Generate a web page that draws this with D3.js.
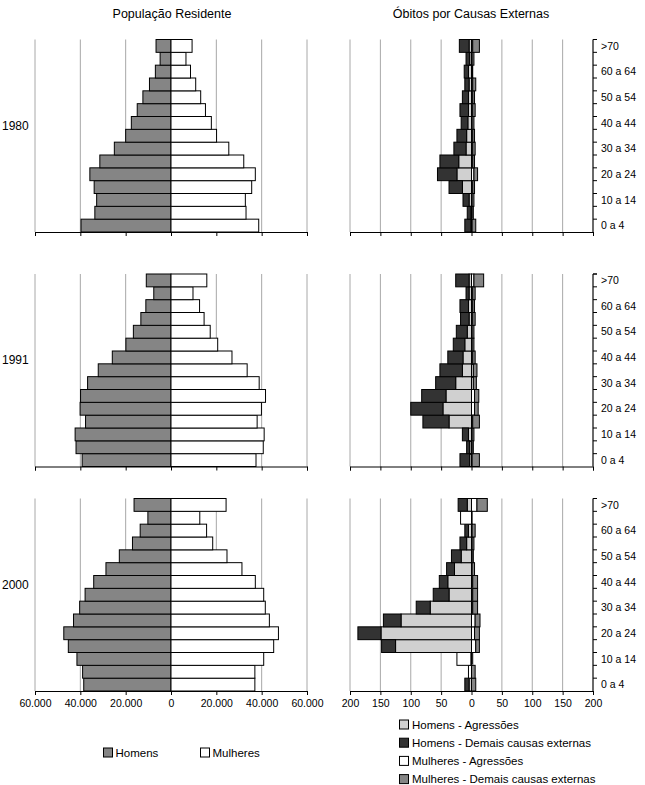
<!DOCTYPE html>
<html>
<head>
<meta charset="utf-8">
<script src="https://cdn.jsdelivr.net/npm/d3@7"></script>
<style>
  body { margin: 0; background: #fff; }
  svg { font-family: "Liberation Sans", Arial, sans-serif; }
</style>
</head>
<body>
<div class="chart"></div>
<script>
// age groups, bottom (0 a 4) to top (>70)
const ages = ["0 a 4", "5 a 9", "10 a 14", "15 a 19", "20 a 24", "25 a 29", "30 a 34",
  "35 a 39", "40 a 44", "45 a 49", "50 a 54", "55 a 59", "60 a 64", "65 a 69", ">70"];
const ageLabels = ["0 a 4", "10 a 14", "20 a 24", "30 a 34", "40 a 44", "50 a 54", "60 a 64", ">70"];
const years = ["1980", "1991", "2000"];

// população residente
const popMen1980 = [39700, 33600, 32800, 33900, 35800, 31400, 25000, 20000, 17500, 14900, 12400, 9500, 6900, 4800, 6600];
const popWomen1980 = [38700, 33100, 32800, 35600, 37200, 32100, 25500, 20100, 17800, 15200, 13100, 10900, 8600, 6600, 9300];
const popMen1991 = [39200, 41900, 42300, 37700, 40100, 39900, 36800, 32100, 25900, 19900, 16600, 13300, 11100, 7600, 10900];
const popWomen1991 = [37500, 40700, 41100, 38000, 39900, 41700, 38900, 33600, 26900, 20600, 17300, 14600, 12600, 9700, 15800];
const popMen2000 = [38500, 39000, 41500, 45300, 47300, 43000, 40300, 37900, 34100, 28700, 22800, 17000, 13600, 10200, 16300];
const popWomen2000 = [37000, 37000, 40900, 45300, 47400, 43400, 41600, 40900, 37200, 31300, 24700, 18400, 15700, 12700, 24300];

// óbitos por causas externas
const menAgr1980 = [1, 1, 4, 15, 24, 21, 9, 8, 6, 5, 5, 4, 5, 3, 4];
const menDem1980 = [10, 6, 10, 22, 32, 31, 20, 16, 11, 14, 10, 7, 7, 6, 16];
const womenAgr1980 = [1, 1, 1, 2, 4, 2, 2, 2, 1, 2, 2, 2, 1, 1, 2];
const womenDem1980 = [6, 2, 3, 3, 6, 3, 4, 3, 3, 4, 3, 5, 1, 3, 11];

const menAgr1991 = [3, 3, 5, 37, 47, 42, 26, 15, 14, 11, 7, 4, 5, 4, 4];
const menDem1991 = [16, 5, 10, 43, 53, 40, 33, 37, 25, 19, 18, 14, 14, 5, 22];
const womenAgr1991 = [1, 1, 1, 2, 5, 5, 3, 3, 2, 1, 1, 2, 2, 2, 4];
const womenDem1991 = [12, 2, 3, 11, 6, 7, 5, 6, 4, 3, 3, 4, 3, 4, 16];

const menAgr2000 = [4, 0, 0, 125, 149, 116, 68, 37, 39, 28, 17, 8, 5, 0, 7];
const menDem2000 = [7, 0, 1, 23, 38, 29, 23, 26, 14, 13, 16, 11, 6, 0, 15];
const womenAgr2000 = [0, -5, -23, 7, 5, 6, 2, 2, 2, 1, 1, 1, 1, -18, 9];
const womenDem2000 = [7, 6, 2, 6, 8, 8, 8, 8, 8, 4, 2, 3, 5, 1, 17];

const popTicks = [-60000, -40000, -20000, 0, 20000, 40000, 60000];
const deathTicks = [-200, -150, -100, -50, 0, 50, 100, 150, 200];

const pops = [[popMen1980, popWomen1980], [popMen1991, popWomen1991], [popMen2000, popWomen2000]];
const deaths = [
  [menAgr1980, menDem1980, womenAgr1980, womenDem1980],
  [menAgr1991, menDem1991, womenAgr1991, womenDem1991],
  [menAgr2000, menDem2000, womenAgr2000, womenDem2000]
];

const W = 645, H = 785;
const panelTop = [39.5, 274, 498.5];
const panelH = 192.5;
const gridColor = "#a8a8a8";

const svg = d3.select(".chart").append("svg")
  .attr("width", W).attr("height", H);

const xPop = d3.scaleLinear().domain([-60000, 60000]).range([35, 307]);
const xDeath = d3.scaleLinear().domain([-200, 200]).range([350, 593]);

const keys = ["menAgr", "menDem", "womenAgr", "womenDem"];
const colors = { menAgr: "#d0d0d0", menDem: "#333333", womenAgr: "#ffffff", womenDem: "#858585" };

const fmt = d => d3.format(",")(Math.abs(d)).replace(/,/g, ".");

// titles
svg.append("text").attr("x", 172).attr("y", 18).attr("text-anchor", "middle")
  .attr("font-size", 12.5).text("População Residente");
svg.append("text").attr("x", 471).attr("y", 18).attr("text-anchor", "middle")
  .attr("font-size", 12.5).text("Óbitos por Causas Externas");

function drawGrid(g, x, ticks, y0, y1, last) {
  g.selectAll(".grid").data(ticks).enter().append("line")
    .attr("x1", d => x(d)).attr("x2", d => x(d))
    .attr("y1", y0).attr("y2", y1)
    .attr("stroke", gridColor).attr("stroke-width", 1);

  const ax = g.append("g").attr("transform", "translate(0," + y1 + ")")
    .call(d3.axisBottom(x).tickValues(ticks).tickSize(4).tickFormat(last ? fmt : ""));
  ax.select(".domain").attr("stroke", "#000");
  ax.selectAll(".tick line").attr("stroke", "#000");
  ax.selectAll("text").attr("font-size", 10.5).attr("font-family", "Liberation Sans, Arial, sans-serif")
    .attr("fill", "#000").attr("dy", "0.85em");
}

for (let p = 0; p < years.length; p++) {
  const top = panelTop[p], bottom = top + panelH;
  const last = p === years.length - 1;
  const y = d3.scaleBand().domain(ages.slice().reverse()).range([top, bottom]).padding(0);

  const g = svg.append("g");

  // year label
  g.append("text").attr("x", 2).attr("y", (top + bottom) / 2 - 6)
    .attr("font-size", 12).text(years[p]);

  // --- population pyramid
  drawGrid(g, xPop, popTicks, top, bottom, last);
  const [men, women] = pops[p];
  g.selectAll(".pm").data(ages).enter().append("rect")
    .attr("x", (d, i) => xPop(-men[i]))
    .attr("width", (d, i) => xPop(0) - xPop(-men[i]))
    .attr("y", d => y(d)).attr("height", y.bandwidth())
    .attr("fill", "#858585").attr("stroke", "#000").attr("stroke-width", 1);
  g.selectAll(".pw").data(ages).enter().append("rect")
    .attr("x", xPop(0))
    .attr("width", (d, i) => xPop(women[i]) - xPop(0))
    .attr("y", d => y(d)).attr("height", y.bandwidth())
    .attr("fill", "#fff").attr("stroke", "#000").attr("stroke-width", 1);

  // --- deaths
  drawGrid(g, xDeath, deathTicks, top, bottom, last);
  const [ma, md, wa, wd] = deaths[p];
  const table = ages.map((a, i) => ({
    age: a, menAgr: -ma[i], menDem: -md[i], womenAgr: wa[i], womenDem: wd[i]
  }));
  const series = d3.stack().keys(keys).offset(d3.stackOffsetDiverging)(table);
  series.forEach(s => {
    g.selectAll(".d-" + s.key).data(s.filter(d => d[1] !== d[0])).enter().append("rect")
      .attr("x", d => xDeath(Math.min(d[0], d[1])))
      .attr("width", d => Math.abs(xDeath(d[1]) - xDeath(d[0])))
      .attr("y", d => y(d.data.age)).attr("height", y.bandwidth())
      .attr("fill", colors[s.key]).attr("stroke", "#000").attr("stroke-width", 1);
  });

  // category axis on the right
  const xr = xDeath(200);
  g.append("line").attr("x1", xr).attr("x2", xr).attr("y1", top).attr("y2", bottom)
    .attr("stroke", "#000");
  const edges = ages.map(a => y(a)).concat([top]);
  g.selectAll(".rt").data(edges).enter().append("line")
    .attr("x1", xr).attr("x2", xr + 4)
    .attr("y1", d => d).attr("y2", d => d).attr("stroke", "#000");
  g.selectAll(".rl").data(ageLabels).enter().append("text")
    .attr("x", xr + 8).attr("y", d => y(d) + y.bandwidth() / 2)
    .attr("dy", "0.35em").attr("font-size", 10.5).text(d => d);
}

// legends
const legL = svg.append("g");
[["Homens", "#858585", 103.5], ["Mulheres", "#fff", 200.5]].forEach(d => {
  legL.append("rect").attr("x", d[2]).attr("y", 748).attr("width", 9).attr("height", 9)
    .attr("fill", d[1]).attr("stroke", "#000");
  legL.append("text").attr("x", d[2] + 12).attr("y", 752.5).attr("dy", "0.35em")
    .attr("font-size", 11.5).text(d[0]);
});

const legendNames = ["Homens - Agressões", "Homens - Demais causas externas",
  "Mulheres - Agressões", "Mulheres - Demais causas externas"];
const legR = svg.append("g");
keys.forEach((k, i) => {
  const yy = 720 + i * 18.2;
  legR.append("rect").attr("x", 399.5).attr("y", yy).attr("width", 9).attr("height", 9)
    .attr("fill", colors[k]).attr("stroke", "#000");
  legR.append("text").attr("x", 412).attr("y", yy + 4.5).attr("dy", "0.35em")
    .attr("font-size", 11.5).text(legendNames[i]);
});
</script>
</body>
</html>
